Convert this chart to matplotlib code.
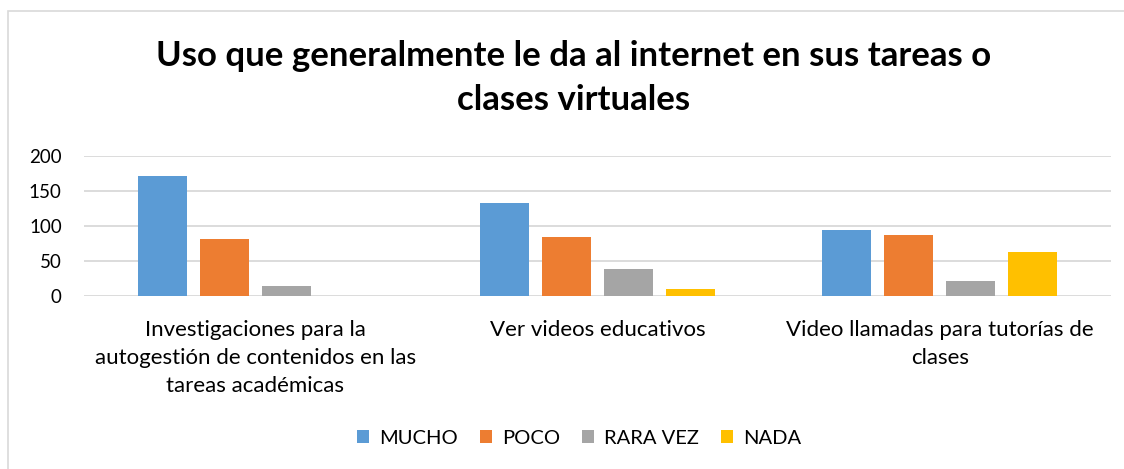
import matplotlib
matplotlib.use("Agg")
import matplotlib.pyplot as plt
import numpy as np
from matplotlib.patches import Rectangle

categories = ["Investigaciones para la\nautogestión de contenidos en las\ntareas académicas",
              "Ver videos educativos",
              "Video llamadas para tutorías de\nclases"]
series_names = ["MUCHO", "POCO", "RARA VEZ", "NADA"]
mucho = [171, 133, 95]
poco = [82, 85, 87]
rara_vez = [14, 38, 22]
nada = [0, 10, 63]
colors = ["#5b9bd5", "#ed7d31", "#a5a5a5", "#ffc000"]
yticks = [0, 50, 100, 150, 200]

plt.rcParams['font.family'] = ['Lato', 'DejaVu Sans']

W, H = 1124, 469
fig = plt.figure(figsize=(W / 100, H / 100), dpi=100)
fig.patch.set_facecolor("white")

# chart border
fig.patches.append(Rectangle((8 / W, -0.1), 1.2, 1 - 11 / H + 0.1, transform=fig.transFigure,
                             fill=False, edgecolor="#d9d9d9", linewidth=1.2))

ax = fig.add_axes([84 / W, 1 - 296 / H, (1111 - 84) / W, 140 / H])
x = np.arange(len(categories))
pitch = 62 / 342.3
width = 49 / 342.3
data = [mucho, poco, rara_vez, nada]
for i, (name, vals) in enumerate(zip(series_names, data)):
    ax.bar(x + (i - 1.5) * pitch, vals, width=width, color=colors[i], label=name, zorder=3)

ax.set_xlim(-0.5, 2.5)
ax.set_ylim(0, 200)
ax.set_yticks(yticks)
ax.set_yticklabels([str(v) for v in yticks], fontsize=13.5, color="#000000")
ax.yaxis.grid(True, color="#d9d9d9", linewidth=1.3, zorder=0)
ax.set_axisbelow(True)
ax.set_xticks(x)
ax.set_xticklabels(categories, fontsize=16, color="#000000", linespacing=1.5)
ax.tick_params(axis='both', length=0)
ax.tick_params(axis='y', pad=16)
ax.tick_params(axis='x', pad=17)
for s in ax.spines.values():
    s.set_visible(False)

fig.text(574 / W, 1 - 78 / H, "Uso que generalmente le da al internet en sus tareas o\nclases virtuales",
         ha="center", va="center", fontsize=25, fontweight="bold", color="#000000",
         linespacing=1.45)

ax.legend(loc="center", bbox_to_anchor=(579 / W, 1 - 438 / H), bbox_transform=fig.transFigure,
          ncol=4, frameon=False, fontsize=14.5, handlelength=0.6, handleheight=0.6,
          handletextpad=0.5, columnspacing=1.1)

fig.savefig("out.png", dpi=100)
